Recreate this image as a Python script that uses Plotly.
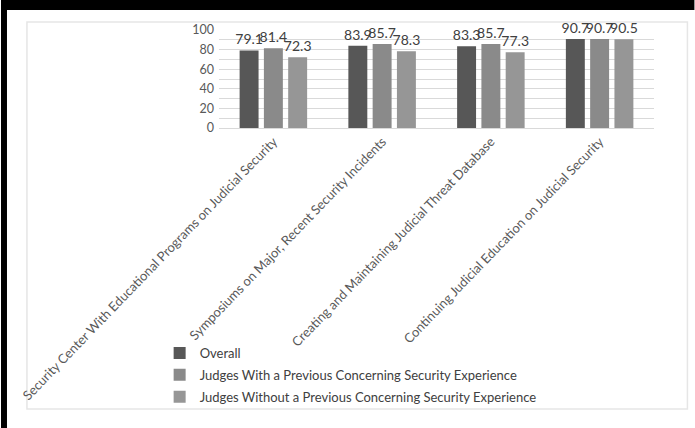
import plotly.graph_objects as go

categories = [
    "Security Center With Educational Programs on Judicial Security",
    "Symposiums on Major, Recent Security Incidents",
    "Creating and Maintaining Judicial Threat Database",
    "Continuing Judicial Education on Judicial Security",
]
overall = [79.1, 83.9, 83.3, 90.7]
with_experience = [81.4, 85.7, 85.7, 90.7]
without_experience = [72.3, 78.3, 77.3, 90.5]

series_names = [
    "Overall",
    "Judges With a Previous Concerning Security Experience",
    "Judges Without a Previous Concerning Security Experience",
]
series_values = [overall, with_experience, without_experience]
series_colors = ["#575757", "#8a8a8a", "#969696"]

# Page geometry (pixels); the value axis occupies only the top band of the paper
W, H = 695, 428
L, R, T, B = 218.5, 40.5, 30, 20
PW, PH = W - L - R, H - T - B
AXIS_BOTTOM = 128


def px(x):
    return (x - L) / PW


def py(y):
    return (H - B - y) / PH


fig = go.Figure()
for i, (name, vals, col) in enumerate(zip(series_names, series_values, series_colors)):
    fig.add_trace(go.Bar(
        x=categories, y=vals, name=name, legendgroup=f"g{i}",
        marker=dict(color=col, line=dict(width=0)),
        text=[f"{v:g}" for v in vals], textposition="outside",
        constraintext="none",
        textfont=dict(size=14, color="#404040", family="Lato"),
        cliponaxis=False,
    ))

shapes = [
    # page background and dark frame
    dict(type="rect", xref="paper", yref="paper", x0=px(0), x1=px(W), y0=py(0), y1=py(H),
         fillcolor="black", line=dict(width=0), layer="below"),
    dict(type="rect", xref="paper", yref="paper", x0=px(6), x1=px(W + 5), y0=py(10), y1=py(H + 5),
         fillcolor="white", line=dict(width=0), layer="below"),
    # light chart-area border
    dict(type="rect", xref="paper", yref="paper", x0=px(26), x1=px(688), y0=py(22), y1=py(409),
         fillcolor="rgba(0,0,0,0)", line=dict(width=1.5, color="#e6e6e6"), layer="below"),
]

fig.update_layout(
    width=W, height=H,
    margin=dict(l=L, r=R, t=T, b=B, pad=0),
    paper_bgcolor="white", plot_bgcolor="white",
    barmode="group", bargap=0.33, bargroupgap=0.22,
    font=dict(family="Lato", color="#595959", size=12),
    shapes=shapes,
    showlegend=True,
    legend=dict(
        orientation="v", x=px(159), y=py(338), xanchor="left", yanchor="top",
        font=dict(size=13, color="#404040", family="Lato"),
        tracegroupgap=2, itemwidth=30, bgcolor="rgba(0,0,0,0)",
    ),
    xaxis=dict(
        tickangle=-46, tickfont=dict(size=13, color="#595959", family="Lato"),
        showline=True, linecolor="#d9d9d9", linewidth=1, ticks="",
        showgrid=False, anchor="y",
    ),
    yaxis=dict(
        domain=[py(AXIS_BOTTOM), 1],
        range=[0, 100], tickvals=[0, 20, 40, 60, 80, 100],
        tickfont=dict(size=12.5, color="#595959", family="Lato"),
        showgrid=True, gridcolor="#d9d9d9", gridwidth=1,
        minor=dict(dtick=10, showgrid=True, gridcolor="#d9d9d9", gridwidth=1),
        zeroline=False, showline=False, ticks="", ticklabelstandoff=4,
    ),
)

fig.write_html("out.html")
